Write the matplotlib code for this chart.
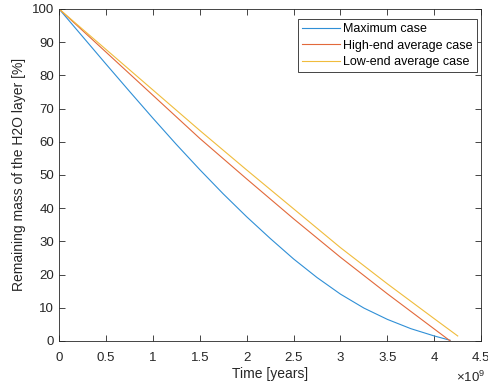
import numpy as np
import matplotlib
matplotlib.use("Agg")
from matplotlib import pyplot as plt
from matplotlib.ticker import FuncFormatter

# time in units of 1e9 years, remaining mass in %
t_max = [0, 0.25, 0.5, 0.75, 1.0, 1.25, 1.5, 1.75, 2.0, 2.25, 2.5, 2.75, 3.0, 3.25, 3.5, 3.75, 4.0, 4.17]
m_max = [100, 91.7, 83.4, 75.2, 67.1, 59.2, 51.6, 44.3, 37.4, 30.9, 24.7, 19.1, 14.1, 9.9, 6.5, 3.7, 1.5, 0.2]

t_high = [0, 0.5, 1.0, 1.5, 2.0, 2.5, 3.0, 3.5, 4.0, 4.17]
m_high = [100, 87.0, 74.0, 61.0, 48.8, 36.8, 25.2, 14.2, 3.6, 0]

t_low = [0, 0.5, 1.0, 1.5, 2.0, 2.5, 3.0, 3.5, 4.0, 4.25]
m_low = [100, 87.8, 75.6, 63.4, 51.5, 39.8, 28.1, 17.2, 6.7, 1.5]

labels = ["Maximum case", "High-end average case", "Low-end average case"]
colors = ["#2F8FD6", "#E2693A", "#F0BC3C"]

plt.rcParams['font.family'] = ['Liberation Sans', 'DejaVu Sans']
plt.rcParams['mathtext.fontset'] = 'custom'
plt.rcParams['mathtext.rm'] = 'Liberation Sans'

fig = plt.figure(figsize=(4.88, 3.87), dpi=100)
ax = fig.add_axes([0.121, 0.119, 0.865, 0.858])

scale = 1e9
ax.plot(np.array(t_max) * scale, m_max, color=colors[0], lw=0.8, label=labels[0])
ax.plot(np.array(t_high) * scale, m_high, color=colors[1], lw=0.8, label=labels[1])
ax.plot(np.array(t_low) * scale, m_low, color=colors[2], lw=0.8, label=labels[2])

ax.set_xlim(0, 4.5e9)
ax.set_ylim(0, 100)
ax.set_xticks(np.arange(0, 4.51, 0.5) * scale)
ax.set_yticks(np.arange(0, 101, 10))
ax.xaxis.set_major_formatter(FuncFormatter(lambda v, p: f"{v / scale:g}"))

edge = "#262626"
for s in ax.spines.values():
    s.set_color(edge)
    s.set_linewidth(0.6)
ax.tick_params(direction='in', top=True, right=True, length=4, width=0.6,
               colors=edge, labelsize=9.5, labelcolor=edge)
ax.tick_params(axis='x', pad=8)

ax.set_xlabel("Time [years]", fontsize=10, color=edge, labelpad=2)
ax.set_ylabel("Remaining mass of the H2O layer [%]", fontsize=10, color=edge, labelpad=4)
ax.text(1.01, -0.088, r"$\times10^{9}$", transform=ax.transAxes, ha='right', va='top',
        fontsize=9.5, color=edge)

leg = ax.legend(loc='upper right', fontsize=9, fancybox=False, framealpha=1,
                edgecolor=edge, borderpad=0.35, handlelength=3.0, labelspacing=0.35,
                handletextpad=0.3, borderaxespad=0, bbox_to_anchor=(0.9905, 0.97))
leg.get_frame().set_linewidth(0.6)

fig.savefig("out.png", dpi=100)
